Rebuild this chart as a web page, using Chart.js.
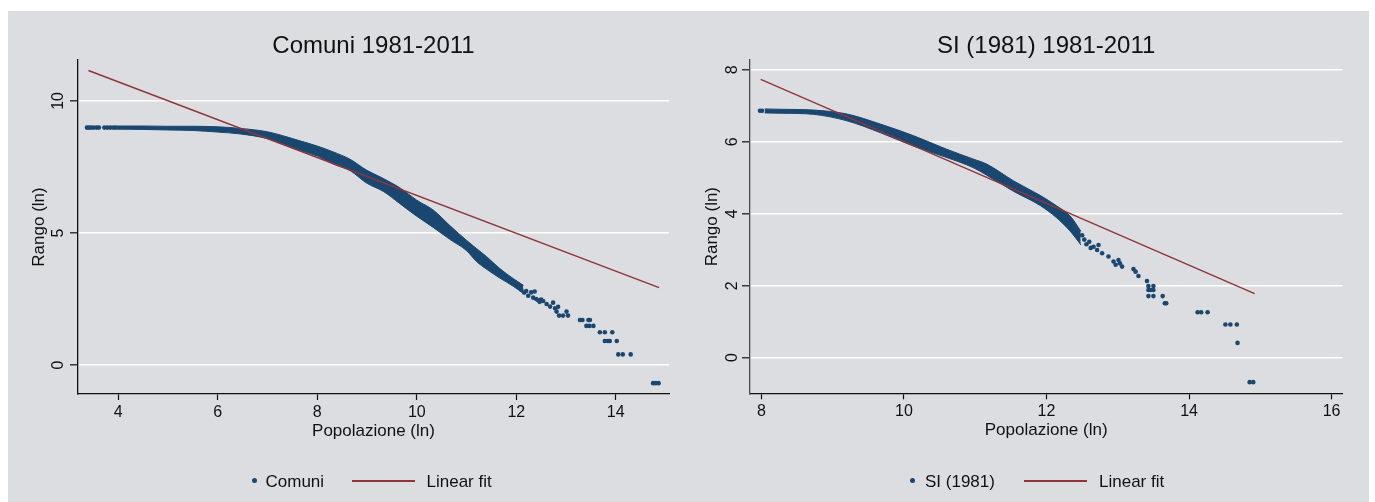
<!DOCTYPE html>
<html>
<head>
<meta charset="utf-8">
<script src="https://cdn.jsdelivr.net/npm/chart.js@4.4.1/dist/chart.umd.min.js"></script>
<style>
  html, body { margin:0; padding:0; background:#ffffff; }
  body { width:1375px; height:502px; position:relative; overflow:hidden; font-family:"Liberation Sans", Arial, Helvetica, sans-serif; }
  #panel { position:absolute; left:8px; top:11px; width:1361px; height:491px; background:#dcdde0; }
  .box { position:absolute; top:11px; height:491px; }
  .lg-text { position:absolute; top:472px; font-size:17px; line-height:20px; color:#111; white-space:nowrap; }
  .lg-dot { position:absolute; width:5px; height:5px; border-radius:50%; background:#1a476f; }
  .lg-line { position:absolute; height:1.5px; background:#90353b; }
</style>
</head>
<body>
<div id="panel"></div>
<div class="box" style="left:8px;width:680px;"><canvas id="c1"></canvas></div>
<div class="box" style="left:688px;width:681px;"><canvas id="c2"></canvas></div>

<div class="lg-dot" style="left:252px;top:477.5px;"></div>
<div class="lg-text" style="left:265.5px;">Comuni</div>
<div class="lg-line" style="left:352px;top:480px;width:63px;"></div>
<div class="lg-text" style="left:426.5px;">Linear fit</div>

<div class="lg-dot" style="left:910px;top:477.5px;"></div>
<div class="lg-text" style="left:925px;">SI (1981)</div>
<div class="lg-line" style="left:1024px;top:480px;width:63px;"></div>
<div class="lg-text" style="left:1099px;">Linear fit</div>

<script>
// ---------------- Left panel: Comuni 1981-2011 ----------------
const comuniTitle = 'Comuni 1981-2011';
const comuniTicksX = [4, 6, 8, 10, 12, 14];
const comuniTicksY = [0, 5, 10];
const comuniBandX    = [3.98, 4.5, 5.0, 5.5, 6.0, 6.45, 7.0, 7.65, 8.0, 8.32, 8.66, 8.99, 9.33, 9.66, 10.0, 10.33, 10.67, 11.0, 11.2, 11.4, 11.67, 11.94, 12.14];
const comuniBandHigh = [9.05, 9.05, 9.04, 9.04, 9.02, 8.96, 8.83, 8.49, 8.29, 8.07, 7.79, 7.38, 7.06, 6.71, 6.24, 5.87, 5.27, 4.72, 4.41, 4.11, 3.65, 3.27, 3.02];
const comuniBandLow  = [8.93, 8.92, 8.90, 8.88, 8.82, 8.75, 8.57, 8.13, 7.91, 7.61, 7.36, 6.89, 6.57, 6.11, 5.63, 5.21, 4.75, 4.33, 3.92, 3.63, 3.29, 2.98, 2.71];
const comuniDotsX = [3.37, 3.41, 3.45, 3.50, 3.56, 3.61, 3.72, 3.78, 3.84, 3.90, 3.95,
  12.10, 12.16, 12.20, 12.24, 12.30, 12.34, 12.37, 12.40, 12.44, 12.47, 12.50, 12.54,
  12.61, 12.68, 12.74, 12.78, 12.81, 12.84, 12.86, 12.94, 13.01, 13.04,
  13.28, 13.33, 13.45, 13.48, 13.41, 13.47, 13.55,
  13.68, 13.78, 13.93,
  13.78, 13.84, 13.88, 14.02,
  14.05, 14.14, 14.30,
  14.75, 14.80, 14.86];
const comuniDotsY = [8.99, 8.99, 8.99, 8.99, 8.99, 8.99, 8.99, 8.99, 8.99, 8.99, 8.99,
  2.86, 2.74, 2.80, 2.62, 2.75, 2.55, 2.78, 2.50, 2.45, 2.39, 2.48, 2.42,
  2.31, 2.21, 2.36, 2.15, 2.02, 2.20, 1.87, 1.87, 2.02, 1.87,
  1.70, 1.70, 1.70, 1.70, 1.48, 1.48, 1.48,
  1.24, 1.24, 1.24,
  0.91, 0.91, 0.91, 0.91,
  0.40, 0.40, 0.40,
  -0.69, -0.69, -0.69];
const comuniFitX = [3.40, 14.87];
const comuniFitY = [11.15, 2.93];

// ---------------- Right panel: SI (1981) 1981-2011 ----------------
const slTitle = 'SI (1981) 1981-2011';
const slTicksX = [8, 10, 12, 14, 16];
const slTicksY = [0, 2, 4, 6, 8];
const slBandX    = [8.05, 8.3, 8.73, 9.20, 9.67, 10.13, 10.60, 10.97, 11.16, 11.54, 11.91, 12.14, 12.33, 12.48];
const slBandHigh = [6.91, 6.90, 6.88, 6.77, 6.49, 6.17, 5.79, 5.52, 5.38, 4.91, 4.51, 4.22, 3.94, 3.52];
const slBandLow  = [6.80, 6.79, 6.76, 6.58, 6.25, 5.88, 5.56, 5.28, 5.07, 4.62, 4.23, 3.89, 3.52, 3.14];
const slDotsX = [7.98, 8.01,
  12.50, 12.53, 12.56, 12.60, 12.62,
  12.66, 12.71, 12.73, 12.78, 12.87, 12.94, 12.97, 13.01, 13.03, 13.06,
  13.22, 13.25, 13.29, 13.41, 13.43, 13.50, 13.43, 13.46, 13.50,
  13.43, 13.50, 13.63, 13.66, 13.68,
  14.12, 14.17, 14.26,
  14.51, 14.58, 14.67,
  14.68,
  14.85, 14.90];
const slDotsY = [6.86, 6.86,
  3.40, 3.28, 3.15, 3.22, 3.05,
  3.08, 2.99, 3.13, 2.90, 2.81, 2.67, 2.58, 2.71, 2.62, 2.53,
  2.46, 2.39, 2.27, 2.13, 1.99, 1.99, 1.88, 1.88, 1.88,
  1.71, 1.71, 1.71, 1.51, 1.51,
  1.26, 1.26, 1.26,
  0.92, 0.92, 0.92,
  0.41,
  -0.68, -0.68];
const slFitX = [7.99, 14.92];
const slFitY = [7.73, 1.78];

// ---------------- styling ----------------
const NAVY = '#1a476f';
const MAROON = '#90353b';
const INK = '#111111';
const FAMILY = '"Liberation Sans", Arial, Helvetica, sans-serif';
Chart.defaults.font.family = FAMILY;
Chart.defaults.color = INK;

const zip = (xs, ys) => xs.map((x, i) => ({ x: x, y: ys[i] }));

const stataPlugin = {
  id: 'stata',
  afterDraw(chart, args, opts) {
    const ctx = chart.ctx;
    const ys = chart.scales.y;
    const area = chart.chartArea;
    ctx.save();
    ctx.fillStyle = INK;
    ctx.font = '16px ' + FAMILY;
    ctx.textAlign = 'center';
    ctx.textBaseline = 'alphabetic';
    ys.ticks.forEach(t => {
      const py = ys.getPixelForValue(t.value);
      ctx.save();
      ctx.translate(opts.tickBaseX, py);
      ctx.rotate(-Math.PI / 2);
      ctx.fillText(t.label, 0, 0);
      ctx.restore();
    });
    ctx.font = '24px ' + FAMILY;
    ctx.fillText(opts.title, (area.left + area.right) / 2, opts.titleBaseY);
    ctx.restore();
  }
};

function makeChart(id, d) {
  return new Chart(document.getElementById(id), {
    type: 'scatter',
    data: {
      datasets: [
        { label: 'Linear fit', data: zip(d.fitX, d.fitY), showLine: true, borderColor: MAROON, borderWidth: 1.5, pointRadius: 0, fill: false, tension: 0 },
        { label: d.name, data: zip(d.dotsX, d.dotsY), showLine: false, backgroundColor: NAVY, borderColor: NAVY, pointRadius: 2.3, pointBorderWidth: 0 },
        { label: d.name + ' hi', data: zip(d.bandX, d.bandHigh), showLine: true, borderColor: NAVY, borderWidth: 1, pointRadius: 0, fill: false, cubicInterpolationMode: 'monotone', borderJoinStyle: 'round', borderCapStyle: 'round' },
        { label: d.name + ' lo', data: zip(d.bandX, d.bandLow), showLine: true, borderColor: NAVY, backgroundColor: NAVY, borderWidth: 1, pointRadius: 0, fill: '-1', cubicInterpolationMode: 'monotone', borderJoinStyle: 'round', borderCapStyle: 'round' }
      ]
    },
    options: {
      responsive: true,
      maintainAspectRatio: false,
      animation: false,
      devicePixelRatio: 1,
      events: [],
      layout: { padding: d.padding },
      plugins: {
        legend: { display: false },
        tooltip: { enabled: false },
        title: { display: false },
        stata: { title: d.title, tickBaseX: d.tickBaseX, titleBaseY: 41.5 }
      },
      scales: {
        x: {
          type: 'linear', min: d.xMin, max: d.xMax,
          afterBuildTicks: s => { s.ticks = d.ticksX.map(v => ({ value: v })); },
          afterFit: s => { s.height = 60; },
          grid: { display: true, drawOnChartArea: false, drawTicks: true, tickLength: 6, tickColor: INK, tickWidth: 1.2 },
          border: { display: true, color: INK, width: 1.3 },
          ticks: { font: { size: 16 }, color: INK, padding: 3, maxRotation: 0, minRotation: 0, autoSkip: false },
          title: { display: true, text: 'Popolazione (ln)', font: { size: 17 }, color: INK, padding: { top: 0, bottom: d.xTitlePad } }
        },
        y: {
          type: 'linear', min: d.yMin, max: d.yMax,
          afterBuildTicks: s => { s.ticks = d.ticksY.map(v => ({ value: v })); },
          afterFit: s => { s.width = d.yWidth; },
          grid: { display: true, color: '#ffffff', lineWidth: 1.6, drawTicks: true, tickLength: 8, tickColor: INK, tickWidth: 1.2 },
          border: { display: true, color: d.yAxisColor, width: 1.3 },
          ticks: { display: false },
          title: { display: true, text: 'Rango (ln)', font: { size: 17 }, color: INK, padding: { top: d.yTitlePad, bottom: 0 } }
        }
      }
    },
    plugins: [stataPlugin]
  });
}

makeChart('c1', {
  name: 'Comuni', title: comuniTitle,
  fitX: comuniFitX, fitY: comuniFitY,
  dotsX: comuniDotsX, dotsY: comuniDotsY,
  bandX: comuniBandX, bandHigh: comuniBandHigh, bandLow: comuniBandLow,
  ticksX: comuniTicksX, ticksY: comuniTicksY,
  xMin: 3.19, xMax: 15.07, yMin: -1.1, yMax: 11.55,
  padding: { left: 0, right: 19, top: 49, bottom: 48 },
  yWidth: 70, tickBaseX: 55.3, xTitlePad: 12.8, yTitlePad: 20.8, yAxisColor: INK
});

makeChart('c2', {
  name: 'SI (1981)', title: slTitle,
  fitX: slFitX, fitY: slFitY,
  dotsX: slDotsX, dotsY: slDotsY,
  bandX: slBandX, bandHigh: slBandHigh, bandLow: slBandLow,
  ticksX: slTicksX, ticksY: slTicksY,
  xMin: 7.84, xMax: 16.15, yMin: -0.99, yMax: 8.27,
  padding: { left: 0, right: 26.7, top: 49, bottom: 48.7 },
  yWidth: 62, tickBaseX: 48.7, xTitlePad: 13.1, yTitlePad: 13.8, yAxisColor: '#4a4a4a'
});
</script>
</body>
</html>
